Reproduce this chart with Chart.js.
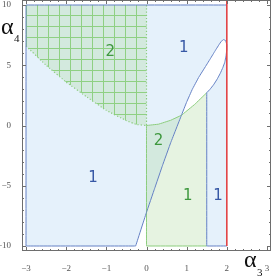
<!DOCTYPE html>
<html><head><meta charset="utf-8">
<script src="https://cdn.jsdelivr.net/npm/chart.js@4/dist/chart.umd.min.js"></script>
<style>html,body{margin:0;padding:0;background:#fff;overflow:hidden}#wrap{position:relative;width:272px;height:277px}</style>
</head><body><div id="wrap"><canvas id="c" width="272" height="277"></canvas></div>
<script>
// ---- data ----
const xTicks = [-3, -2, -1, 0, 1, 2, 3];
const yTicks = [-10, -5, 0, 5, 10];
const xRange = [-3.1, 3.1];
const yRange = [-10.415, 10.415];
const regionX = [-3, 2];          // outer blue region
const regionY = [-10, 10];
const greenX = [0, 1.5];          // lower green region
// lower boundary of hatched region (x = -3 .. 0)
const leftCurveX = [-3, -2.5, -2, -1.5, -1, -0.5, -0.25, 0];
const leftCurveY = [6.6, 5.0, 3.6, 2.4, 1.25, 0.4, 0.08, 0];
// upper boundary of lower green region (x = 0 .. 1.5)
const rightCurveX = [0, 0.3, 0.6, 0.87, 1.2, 1.5];
const rightCurveY = [0, 0.11, 0.43, 0.85, 1.75, 2.72];
// diagonal boundary, up to leaf tip
const diagX = [-0.27, 0, 0.2, 0.4, 0.6, 0.87, 1.0, 1.14, 1.3, 1.47, 1.6, 1.7, 1.8, 1.86, 1.92];
const diagY = [-10, -7.2, -5.25, -3.3, -1.45, 0.85, 1.95, 3.0, 4.0, 4.9, 5.6, 6.15, 6.68, 6.98, 7.13];
const leafTipX = [1.97, 2.0];
const leafTipY = [7.05, 6.7];
// right side of the white leaf, going down
const leafRightX = [2.0, 1.98, 1.95, 1.9, 1.84, 1.76, 1.67, 1.58, 1.5];
const leafRightY = [6.3, 5.8, 5.25, 4.8, 4.35, 3.85, 3.38, 3.0, 2.72];
// region labels
const labelText = ['2', '1', '2', '1', '1', '1'];
const labelX = [-0.9, 0.93, 0.3, -1.33, 1.03, 1.78];
const labelY = [6.1, 6.4, -1.3, -4.4, -5.9, -5.9];
const labelKind = ['green', 'blue', 'green', 'blue', 'green', 'blue'];

// ---- helpers ----
const P = (x, y) => ({x, y});
const pts = (xs, ys) => xs.map((x, i) => P(x, ys[i]));
const rev = a => a.slice().reverse();

const C = {
  blueFill: 'rgba(150,200,240,0.25)',
  greenFill: 'rgba(160,210,140,0.26)',
  blueLine: 'rgb(100,128,196)',
  greenLine: 'rgb(140,205,125)',
  red: 'rgb(226,68,70)',
  blueText: 'rgb(55,88,165)',
  greenText: 'rgb(62,152,62)'
};

function hatchPattern() {
  const t = document.createElement('canvas');
  t.width = 11; t.height = 11;
  const g = t.getContext('2d');
  g.fillStyle = C.greenFill; g.fillRect(0, 0, 11, 11);
  g.fillStyle = 'rgba(120,200,100,0.75)';
  g.fillRect(4, 0, 1, 11);
  g.fillRect(0, 4, 4, 1); g.fillRect(5, 4, 6, 1);
  return document.getElementById('c').getContext('2d').createPattern(t, 'repeat');
}

const [x0, x1] = regionX, [y0, y1] = regionY, [g0, g1] = greenX;
const diag = pts(diagX, diagY), tip = pts(leafTipX, leafTipY), leafR = pts(leafRightX, leafRightY);
const lCurve = pts(leftCurveX, leftCurveY), rCurve = pts(rightCurveX, rightCurveY);

const blueMain = [P(x0, y0), ...diag, ...tip, P(x1, y1), P(x0, y1)];
const blueStrip = [P(g1, y0), P(x1, y0), ...leafR];
const greenLow = [P(g0, y0), P(g1, y0), ...rev(rCurve)];
const hatch = [P(x0, y1), P(g0, y1), ...rev(lCurve)];

const blueOutline = [P(x1, y1), P(x0, y1), P(x0, y0), ...diag, ...tip, ...leafR, P(g1, y0), P(x1, y0)];
const greenSolid = [P(g1, y0), P(g0, y0), ...rCurve];
const greenDotted = [...lCurve, P(g0, y1)];
const redLine = [P(x1, y0), P(x1, yRange[1])];

const base = {showLine: true, pointRadius: 0, tension: 0.0001, fill: false};
const datasets = [
  {...base, data: blueMain, fill: 'shape', backgroundColor: C.blueFill, borderWidth: 0, order: 13},
  {...base, data: blueStrip, fill: 'shape', backgroundColor: C.blueFill, borderWidth: 0, order: 12},
  {...base, data: greenLow, fill: 'shape', backgroundColor: C.greenFill, borderWidth: 0, order: 11},
  {...base, data: hatch, fill: 'shape', backgroundColor: hatchPattern(), borderWidth: 0, order: 10},
  {...base, data: greenDotted, borderColor: C.greenLine, borderWidth: 1.2, borderDash: [1.2, 2], order: 5},
  {...base, data: greenSolid, borderColor: C.greenLine, borderWidth: 1, order: 4},
  {...base, data: blueOutline, borderColor: C.blueLine, borderWidth: 1, order: 3},
  {...base, data: redLine, borderColor: C.red, borderWidth: 1.6, order: 1}
];

const fmt = v => String(v).replace('-', '\u2212');
const noPad = s => { s.paddingTop = 0; s.paddingBottom = 0; s.paddingLeft = 0; s.paddingRight = 0; };

const decor = {
  id: 'decor',
  afterDatasetsDraw(chart) {
    const {ctx, chartArea: a, scales: {x, y}} = chart;
    ctx.save();
    // region labels
    ctx.textAlign = 'center'; ctx.textBaseline = 'middle';
    ctx.font = '15px "DejaVu Sans"';
    labelText.forEach((t, i) => {
      ctx.fillStyle = labelKind[i] === 'blue' ? C.blueText : C.greenText;
      ctx.fillText(t, x.getPixelForValue(labelX[i]), y.getPixelForValue(labelY[i]));
    });
    // frame
    ctx.strokeStyle = '#6e6e6e'; ctx.lineWidth = 1;
    ctx.strokeRect(a.left + 0.5, a.top + 0.5, a.right - a.left - 1, a.bottom - a.top - 1);
    ctx.beginPath();
    const xs = xTicks[0], xe = xTicks[xTicks.length - 1];
    for (let k = Math.round(xs * 5); k <= Math.round(xe * 5); k++) {
      const px = Math.round(x.getPixelForValue(k / 5)) + 0.5;
      const len = k % 5 === 0 ? 4 : 2;
      ctx.moveTo(px, a.bottom); ctx.lineTo(px, a.bottom - len);
      ctx.moveTo(px, a.top); ctx.lineTo(px, a.top + len);
    }
    const ys = yTicks[0], ye = yTicks[yTicks.length - 1];
    for (let k = ys; k <= ye; k++) {
      const py = Math.round(y.getPixelForValue(k)) + 0.5;
      const len = k % 5 === 0 ? 4 : 2;
      ctx.moveTo(a.left, py); ctx.lineTo(a.left + len, py);
      ctx.moveTo(a.right, py); ctx.lineTo(a.right - len, py);
    }
    ctx.stroke();
    // axis labels
    ctx.fillStyle = '#111'; ctx.textAlign = 'left'; ctx.textBaseline = 'alphabetic';
    ctx.font = '24px "Liberation Serif"';
    ctx.fillText('\u03B1', 1, 34);
    ctx.fillText('\u03B1', 244, 267);
    ctx.font = '11px "Liberation Serif"';
    ctx.fillText('4', 14, 42);
    ctx.fillText('3', 257, 276);
    ctx.restore();
  }
};

new Chart(document.getElementById('c'), {
  type: 'scatter',
  data: {datasets},
  options: {
    responsive: false, animation: false, events: [],
    layout: {padding: {left: 0, right: 1, top: 0, bottom: 0}, autoPadding: false},
    plugins: {legend: {display: false}, tooltip: {enabled: false}},
    scales: {
      x: {
        type: 'linear', min: xRange[0], max: xRange[1],
        grid: {display: false}, border: {display: false},
        afterBuildTicks: s => { s.ticks = xTicks.map(v => ({value: v})); },
        afterFit: s => { s.height = 26; noPad(s); },
        ticks: {callback: fmt, font: {family: 'Liberation Serif', size: 9}, color: '#555', padding: 4, maxRotation: 0, autoSkip: false}
      },
      y: {
        type: 'linear', min: yRange[0], max: yRange[1],
        grid: {display: false}, border: {display: false},
        afterBuildTicks: s => { s.ticks = yTicks.map(v => ({value: v})); },
        afterFit: s => { s.width = 22; noPad(s); },
        ticks: {callback: fmt, font: {family: 'Liberation Serif', size: 9}, color: '#555', padding: 3, autoSkip: false}
      }
    }
  },
  plugins: [decor]
});
</script></body></html>
